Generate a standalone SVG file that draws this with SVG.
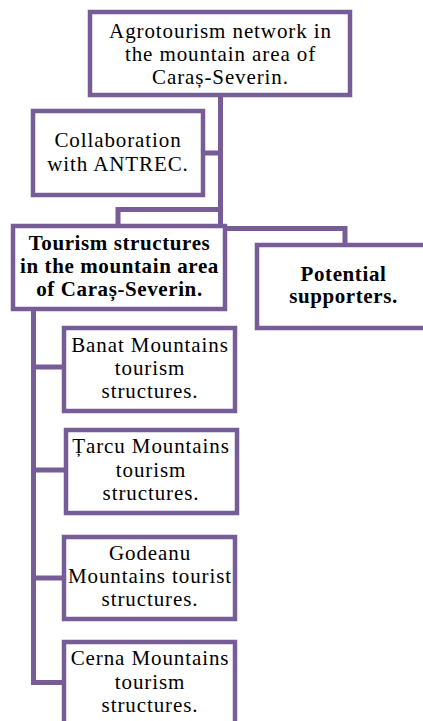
<svg xmlns="http://www.w3.org/2000/svg" width="423" height="721" viewBox="0 0 423 721">
<style>
.box{fill:#fff;stroke:#775d98;stroke-width:4.5}
.con{fill:none;stroke:#775d98;stroke-width:5;stroke-linejoin:miter}
text{font-family:"Liberation Serif","Times New Roman",serif;font-size:21px;letter-spacing:0.9px;fill:#000;text-anchor:middle}
.b{font-weight:bold;font-size:21px;letter-spacing:0.6px}
</style>
<rect width="423" height="721" fill="#fff"/>
<g id="connectors">
<path class="con" d="M220.5 97 V228.5 H345 V245"/>
<path class="con" d="M220.5 209.5 H118 V226"/>
<path class="con" d="M205 153 H220.5"/>
<path class="con" d="M33.5 311 V682.5 H64"/>
<path class="con" d="M33.5 367 H64"/>
<path class="con" d="M33.5 470 H66"/>
<path class="con" d="M33.5 578 H64"/>
</g>
<g id="n-root">
<rect class="box" x="90" y="12" width="260" height="83"/>
<text x="220.5" y="38">Agrotourism network in</text>
<text x="220.5" y="61">the mountain area of</text>
<text x="220.5" y="83.5">Caraș-Severin.</text>
</g>
<g id="n-antrec">
<rect class="box" x="33" y="111" width="170" height="84"/>
<text x="118" y="147">Collaboration</text>
<text x="118" y="171">with ANTREC.</text>
</g>
<g id="n-structures">
<rect class="box" x="13" y="226" width="212" height="83"/>
<text class="b" x="119.5" y="250">Tourism structures</text>
<text class="b" x="119.5" y="273">in the mountain area</text>
<text class="b" x="119.5" y="296">of Caraș-Severin.</text>
</g>
<g id="n-supporters">
<rect class="box" x="257" y="245" width="180" height="83"/>
<text class="b" x="343.5" y="281">Potential</text>
<text class="b" x="343.5" y="303">supporters.</text>
</g>
<g id="n-banat">
<rect class="box" x="64" y="328" width="171" height="83"/>
<text x="150" y="352">Banat Mountains</text>
<text x="150" y="375">tourism</text>
<text x="150" y="397.5">structures.</text>
</g>
<g id="n-tarcu">
<rect class="box" x="66" y="430" width="171" height="83"/>
<text x="151" y="453">Țarcu Mountains</text>
<text x="151" y="476.5">tourism</text>
<text x="151" y="499.5">structures.</text>
</g>
<g id="n-godeanu">
<rect class="box" x="64" y="537" width="171" height="82"/>
<text x="150" y="560">Godeanu</text>
<text x="150" y="583">Mountains tourist</text>
<text x="150" y="606">structures.</text>
</g>
<g id="n-cerna">
<rect class="box" x="64" y="642" width="171" height="90"/>
<text x="150" y="665">Cerna Mountains</text>
<text x="150" y="689">tourism</text>
<text x="150" y="712">structures.</text>
</g>
</svg>
